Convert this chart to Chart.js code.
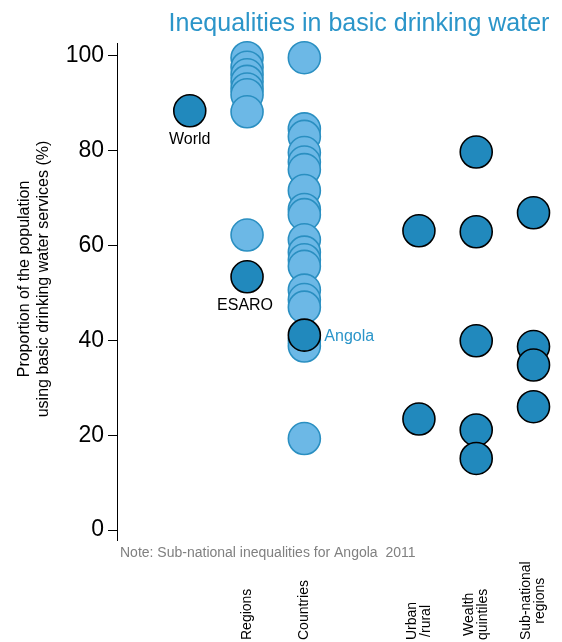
<!DOCTYPE html>
<html>
<head>
<meta charset="utf-8">
<script src="https://cdn.jsdelivr.net/npm/chart.js@4.4.1/dist/chart.umd.min.js"></script>
<style>
html,body{margin:0;padding:0;background:#fff;}
#wrap{width:562px;height:642px;position:relative;}
</style>
</head>
<body>
<div id="wrap"><canvas id="c" width="562" height="642"></canvas></div>
<script>
// ---- data ----
const groupNames = ["World", "Regions", "Countries", "", "Urban\n/rural", "Wealth\nquintiles", "Sub-national\nregions"];
const groupPos = [1, 2, 3, 4, 5, 6, 7];
const yTicks = [0, 20, 40, 60, 80, 100];

const worldValue = [88.4];
const esaroValue = [53.4];
const angolaValue = [41.1];
const regionsValues = [99.6, 97.6, 96.0, 94.6, 93.0, 91.8, 88.2, 62.2];
const countriesValues = [99.6, 84.6, 83.0, 79.6, 77.6, 76.0, 71.6, 67.6, 66.5, 61.2, 58.6, 57.0, 55.6, 50.6, 48.6, 47.0, 40.0, 38.8, 19.3];
const urbanRuralValues = [63.1, 23.4];
const wealthValues = [79.7, 62.9, 39.9, 21.1, 15.1];
const subnationalValues = [66.9, 38.7, 34.8, 26.0];

const LIGHT = '#6cb8e6', LIGHT_B = '#2a8fc1', DARK = '#2189bd', BLUE_T = '#2b95c9';
const FONT = '"Liberation Sans", Arial, sans-serif';

function pts(x, vals){ return vals.map(v => ({x: x, y: v})); }
function darkSet(label, data){
  return {label, data, clip: false, backgroundColor: DARK, borderColor: '#000', borderWidth: 1.6, pointRadius: 16, pointHoverRadius: 16};
}
function lightSet(label, data){
  return {label, data, clip: false, backgroundColor: LIGHT, borderColor: LIGHT_B, borderWidth: 1.6, pointRadius: 16, pointHoverRadius: 16};
}

const datasets = [
  darkSet('World', pts(groupPos[0], worldValue)),
  darkSet('ESARO', pts(groupPos[1], esaroValue)),
  darkSet('Angola', pts(groupPos[2], angolaValue)),
  darkSet('Urban/rural', pts(groupPos[4], urbanRuralValues)),
  darkSet('Wealth quintiles', pts(groupPos[5], wealthValues)),
  darkSet('Sub-national regions', pts(groupPos[6], subnationalValues)),
  lightSet('Regions', pts(groupPos[1], regionsValues)),
  lightSet('Countries', pts(groupPos[2], countriesValues)),
];

const textPlugin = {
  id: 'texts',
  afterDraw(chart){
    const ctx = chart.ctx;
    const xs = chart.scales.x, ys = chart.scales.y;
    ctx.save();
    // title
    ctx.fillStyle = BLUE_T;
    ctx.font = '25px ' + FONT;
    ctx.textAlign = 'center';
    ctx.textBaseline = 'alphabetic';
    ctx.fillText('Inequalities in basic drinking water', 359, 31);
    ctx.textBaseline = 'middle';
    // y title
    ctx.save();
    ctx.fillStyle = '#000';
    ctx.font = '16px ' + FONT;
    ctx.translate(25, 279);
    ctx.rotate(-Math.PI/2);
    ctx.fillText('Proportion of the population', 0, 0);
    ctx.fillText('using basic drinking water services (%)', 0, 19);
    ctx.restore();
    // point labels
    ctx.font = '16px ' + FONT;
    ctx.fillStyle = '#000';
    ctx.textAlign = 'center';
    ctx.fillText('World', xs.getPixelForValue(groupPos[0]), ys.getPixelForValue(worldValue[0]) + 29);
    ctx.fillText('ESARO', xs.getPixelForValue(groupPos[1]) - 2, ys.getPixelForValue(esaroValue[0]) + 29);
    ctx.fillStyle = BLUE_T;
    ctx.textAlign = 'left';
    ctx.fillText('Angola', xs.getPixelForValue(groupPos[2]) + 20, ys.getPixelForValue(angolaValue[0]) + 1);
    // note
    ctx.fillStyle = '#808080';
    ctx.font = '14px ' + FONT;
    ctx.textAlign = 'left';
    ctx.fillText('Note: Sub-national inequalities for Angola  2011', 120, 553);
    // category labels (rotated)
    ctx.fillStyle = '#000';
    ctx.font = '14px ' + FONT;
    ctx.textAlign = 'center';
    groupNames.forEach((name, i) => {
      if (i === 0 || !name) return;
      const lines = name.split('\n');
      const w = Math.max(...lines.map(l => ctx.measureText(l).width));
      const cx = xs.getPixelForValue(groupPos[i]);
      const cy = 640 - w/2;
      const lh = 14;
      ctx.save();
      ctx.translate(cx, cy);
      ctx.rotate(-Math.PI/2);
      lines.forEach((l, j) => {
        const off = (j - (lines.length - 1)/2) * lh;
        ctx.fillText(l, 0, off);
      });
      ctx.restore();
    });
    ctx.restore();
  }
};

new Chart(document.getElementById('c'), {
  type: 'scatter',
  data: { datasets },
  options: {
    responsive: false,
    animation: false,
    devicePixelRatio: 1,
    layout: { padding: { left: 0, right: 4, top: 43, bottom: 102 } },
    plugins: { legend: { display: false }, tooltip: { enabled: false }, title: { display: false } },
    scales: {
      x: { type: 'linear', display: false, min: -0.27, max: 7.19 },
      y: {
        type: 'linear', min: -2.1, max: 102.7,
        afterFit(scale){ scale.width = 117; },
        afterBuildTicks(scale){ scale.ticks = yTicks.map(v => ({value: v})); },
        border: { display: true, color: '#000', width: 1 },
        grid: { drawOnChartArea: false, drawTicks: true, tickLength: 9, color: '#000' },
        ticks: { color: '#000', font: { family: FONT, size: 23 }, padding: 4 }
      }
    }
  },
  plugins: [textPlugin]
});
</script>
</body>
</html>
